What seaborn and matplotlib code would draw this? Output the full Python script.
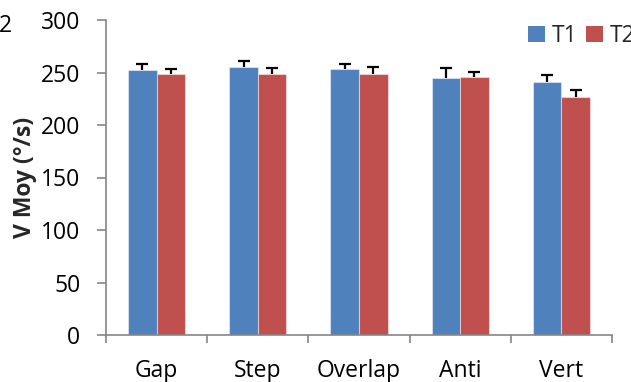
import matplotlib
matplotlib.use("Agg")
import matplotlib.pyplot as plt
import seaborn as sns
import pandas as pd
import numpy as np
from matplotlib.patches import Patch

categories = ["Gap", "Step", "Overlap", "Anti", "Vert"]
series = ["T1", "T2"]
t1_values = [252.5, 255, 253, 245, 241]
t2_values = [248.5, 249, 249, 245.5, 227]
t1_errors = [6, 6, 5, 9, 7]
t2_errors = [4.5, 5.5, 6, 5, 6.5]
y_ticks = [0, 50, 100, 150, 200, 250, 300]

colors = {"T1": "#4F81BD", "T2": "#C0504D"}

sns.set_theme(style="white")
plt.rcParams["font.family"] = ["Open Sans", "DejaVu Sans"]
FS = 16.5

df = pd.DataFrame({
    "cat": categories * 2,
    "serie": ["T1"] * len(categories) + ["T2"] * len(categories),
    "val": t1_values + t2_values,
    "err": t1_errors + t2_errors,
})

fig = plt.figure(figsize=(6.31, 3.82), dpi=100)
ax = fig.add_axes([106 / 631, 47 / 382, 506 / 631, 315 / 382])

sns.barplot(data=df, x="cat", y="val", hue="serie", order=categories,
            hue_order=series, palette=colors, width=0.565, errorbar=None,
            ax=ax, legend=False, saturation=1, zorder=2)

# upper error bars placed at each bar's top
for patch, (_, row) in zip(ax.patches, df.iterrows()):
    patch.set_edgecolor((1, 1, 1, 0.45))
    patch.set_linewidth(0.8)
    xc = patch.get_x() + patch.get_width() / 2
    top = patch.get_height()
    _, caps, _ = ax.errorbar([xc], [top], yerr=[[0], [row["err"]]], fmt="none",
                             ecolor="black", elinewidth=1.6, capsize=4,
                             capthick=1.6, zorder=3)
    for c in caps:
        if np.allclose(c.get_ydata(), top):
            c.set_visible(False)

ax.set_ylim(0, 300)
ax.set_xlim(-0.5, len(categories) - 0.5)
ax.set_yticks(y_ticks)
ax.set_xticks(range(len(categories)))
ax.set_xticks(np.arange(-0.5, len(categories)), minor=True)
ax.set_xticklabels(categories)
ax.tick_params(axis="x", which="major", length=0, pad=17, labelsize=FS, labelcolor="black")
ax.tick_params(axis="x", which="minor", length=6, width=1.2, color="#868686", direction="out", bottom=True)
ax.tick_params(axis="y", length=6.5, width=1.2, color="#868686", direction="out", left=True,
               labelsize=FS, pad=12, labelcolor="black")

for s in ["top", "right"]:
    ax.spines[s].set_visible(False)
for s in ["left", "bottom"]:
    ax.spines[s].set_color("#868686")
    ax.spines[s].set_linewidth(1.2)

ax.set_xlabel("")
ax.set_ylabel("V Moy (°/s)", fontsize=FS, fontweight="bold", labelpad=3)

handles = [Patch(facecolor=colors[s], edgecolor="none") for s in series]
fig.legend(handles, series, loc="upper left", bbox_to_anchor=(528 / 631, 1 - 24 / 382),
           ncol=2, frameon=False, fontsize=FS, handlelength=0.72, handleheight=0.72,
           handletextpad=0.3, columnspacing=0.4, borderaxespad=0, borderpad=0)

fig.text(-0.002, 1 - 32 / 382, "2", fontsize=FS, color="black")

fig.savefig("out.png", dpi=100)
